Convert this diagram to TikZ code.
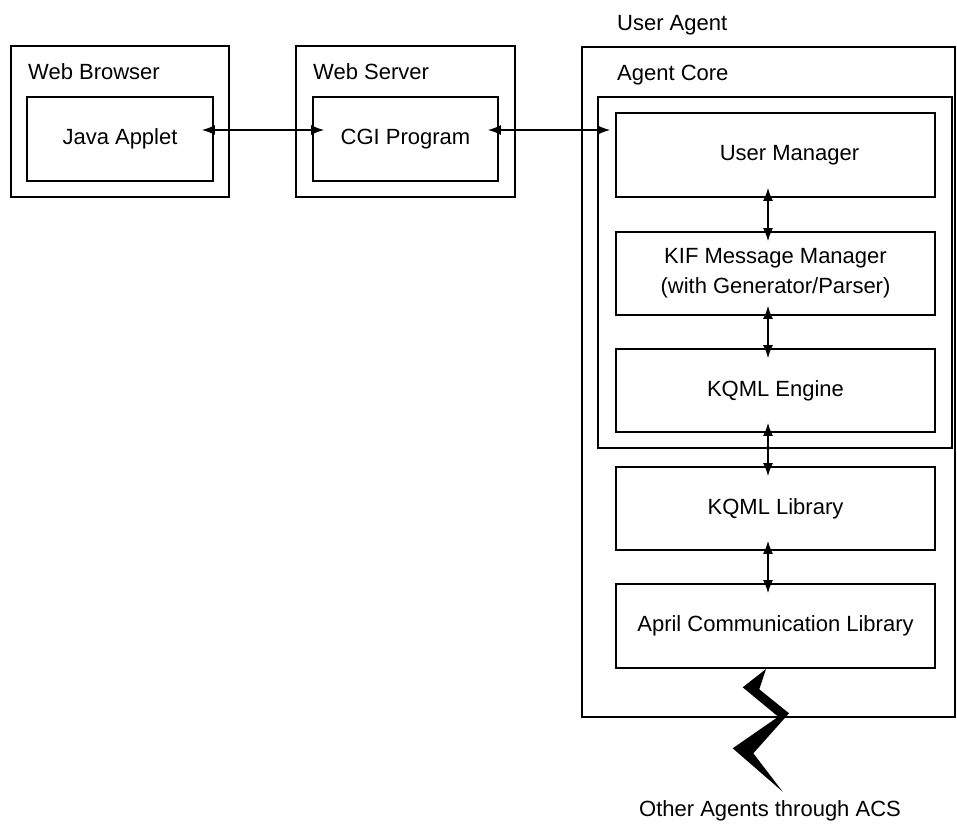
\documentclass[tikz,border=0pt]{standalone}
\usepackage{fontspec}
\setmainfont{Liberation Sans}
\usepackage{tikz}
\usetikzlibrary{arrows.meta}

\begin{document}
\begin{tikzpicture}[x=1pt,y=-1pt,
    font=\fontsize{22}{30}\selectfont,
    box/.style={draw,line width=1.8pt,inner sep=0pt,align=center},
    link/.style={{Latex[length=13pt,width=10pt]}-{Latex[length=13pt,width=10pt]},line width=1.4pt,shorten <=-10pt,shorten >=-10pt}]
            \useasboundingbox (0,0) rectangle (957,824);
            % Browser and web server
            \node[box,minimum width=218pt,minimum height=151pt] (browser) at (120,121.5) {};
            \node[box,minimum width=186pt,minimum height=84pt] (applet) at (120,139) {Java Applet};
            \node[anchor=base west,inner sep=0pt] (lbrowser) at (28,80) {Web Browser};
            \node[box,minimum width=219pt,minimum height=151pt] (server) at (405.5,121.5) {};
            \node[box,minimum width=185pt,minimum height=84pt] (cgi) at (405.5,139) {CGI Program};
            \node[anchor=base west,inner sep=0pt] (lserver) at (313,80) {Web Server};
            % User agent
            \node[box,minimum width=373pt,minimum height=670pt] (agent) at (768.5,382) {};
            \node[anchor=base west,inner sep=0pt] (lagent) at (617,31) {User Agent};
            \node[box,minimum width=354pt,minimum height=351pt] (core) at (775,272.5) {};
            \node[anchor=base west,inner sep=0pt] (lcore) at (617,81) {Agent Core};
            \node[box,minimum width=319pt,minimum height=84pt] (usermgr) at (775.5,155) {\hspace*{28pt}User Manager};
            \node[box,minimum width=319pt,minimum height=83pt] (kif) at (775.5,273.5) {KIF Message Manager\\(with Generator/Parser)};
            \node[box,minimum width=319pt,minimum height=83pt] (engine) at (775.5,390.5) {KQML Engine};
            \node[box,minimum width=319pt,minimum height=83pt] (kqmllib) at (775.5,508.5) {KQML Library};
            \node[box,minimum width=319pt,minimum height=84pt] (april) at (775.5,626) {April Communication Library};
            \node[anchor=base,inner sep=0pt] (lother) at (770,816) {Other Agents through ACS};
            % Links
            \draw[link,shorten <=-12pt,shorten >=-12pt] ([yshift=9pt]applet.east) -- ([yshift=9pt]cgi.west);
            \draw[link,shorten <=-11pt,shorten >=5pt] ([yshift=9pt]cgi.east) -- ([yshift=9pt]cgi.east -| usermgr.west);
            \draw[link] ([xshift=-7.5pt]usermgr.south) -- ([xshift=-7.5pt]kif.north);
            \draw[link] ([xshift=-7.5pt]kif.south) -- ([xshift=-7.5pt]engine.north);
            \draw[link] ([xshift=-7.5pt]engine.south) -- ([xshift=-7.5pt]kqmllib.north);
            \draw[link] ([xshift=-7.5pt]kqmllib.south) -- ([xshift=-7.5pt]april.north);
            % Bolt to the other agents
            \fill (766,669) -- (742.7,687.3) -- (778.3,716.7) -- (732.7,748.3) -- (782.7,791.7)
                -- (753.3,753.3) -- (789,713.3) -- (759.3,689.3) -- cycle;
        \end{tikzpicture}
\end{document}
